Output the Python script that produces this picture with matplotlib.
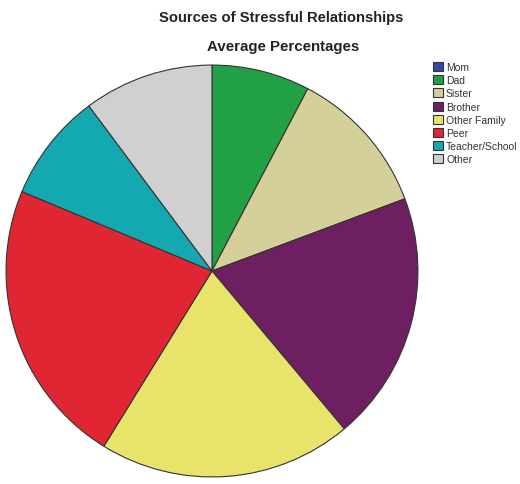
import matplotlib.pyplot as plt

plt.rcParams['font.family'] = ['Liberation Sans', 'DejaVu Sans']

# average share of stressful relationships per source (%)
sources = ['Mom', 'Dad', 'Sister', 'Brother', 'Other Family', 'Peer',
           'Teacher/School', 'Other']
percentages = [0.0, 7.7, 11.6, 19.6, 19.9, 22.5, 8.5, 10.2]
slice_colors = ['#3546a8', '#22a045', '#d5d099', '#6d1f62', '#e8e46b',
                '#e12633', '#14a9b1', '#d0d0d0']

fig = plt.figure(figsize=(5.2, 4.85), dpi=100)

# square axes for the pie, placed in pixel terms
cx, cy, r = 212, 272, 208
W, H = 520, 485
ax = fig.add_axes([(cx - r) / W, (H - cy - r) / H, 2 * r / W, 2 * r / H])
wedges, _ = ax.pie(percentages, colors=slice_colors, startangle=90,
                   counterclock=False, radius=1,
                   wedgeprops=dict(edgecolor='#333333', linewidth=0.8))
ax.set_xlim(-1.01, 1.01)
ax.set_ylim(-1.01, 1.01)
ax.axis('off')

fig.text(281 / W, 1 - 18 / H, 'Sources of Stressful Relationships',
         ha='center', va='center', fontsize=10.6, fontweight='bold', color='#222222')
fig.text(283 / W, 1 - 47 / H, 'Average Percentages',
         ha='center', va='center', fontsize=10.8, fontweight='bold', color='#222222')

leg = fig.legend(wedges, sources, loc='upper left',
                 bbox_to_anchor=(433 / W, 1 - 63 / H), frameon=False,
                 fontsize=7.5, handlelength=1.0, handleheight=0.95,
                 handletextpad=0.25, labelspacing=0.3, borderpad=0,
                 borderaxespad=0)
for t in leg.get_texts():
    t.set_color('#333333')

fig.savefig('out.png', dpi=100)
